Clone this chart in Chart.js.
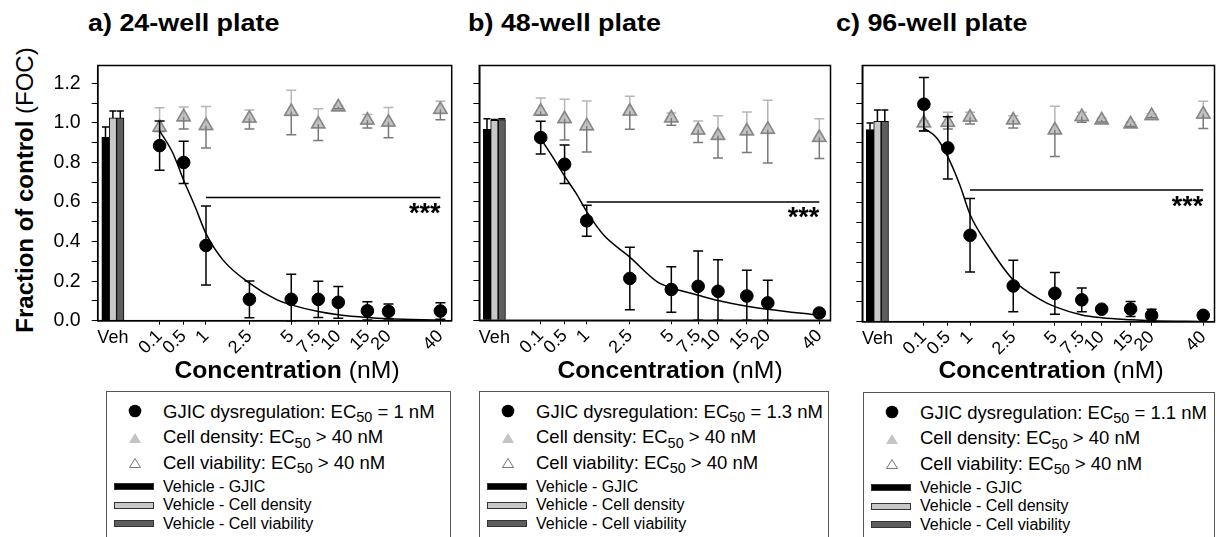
<!DOCTYPE html>
<html>
<head>
<meta charset="utf-8">
<script src="https://cdn.jsdelivr.net/npm/chart.js@4.4.1/dist/chart.umd.min.js"></script>
<style>
  body { margin: 0; background: #fff; width: 1224px; height: 537px; overflow: hidden; position: relative;
         font-family: "Liberation Sans", Arial, sans-serif; color: #000; }
  .ptitle { position: absolute; top: 12px; font-weight: bold; font-size: 23px; line-height: 23px; white-space: nowrap;
            transform: scaleX(1.17); transform-origin: 0 0; }
  .chartbox { position: absolute; top: 40px; height: 330px; }
  .xtitle { position: absolute; top: 358px; font-size: 24px; line-height: 24px; white-space: nowrap; transform: translateX(-50%) scaleX(1.03); }
  .ytitle { position: absolute; left: 25px; top: 190px; font-size: 24px; line-height: 24px; white-space: nowrap;
            transform: translate(-50%, -50%) rotate(-90deg); }
  .legend { position: absolute; height: 160px; border: 1px solid #555; box-sizing: border-box; }
  .row { position: absolute; white-space: nowrap; }
  .big { font-size: 18.5px; line-height: 19px; }
  .small { font-size: 16px; line-height: 16px; }
  .sub { font-size: 0.78em; position: relative; top: 0.32em; }
  .mk { position: absolute; }
</style>
</head>
<body>
<div class="ptitle" style="left:88px">a) 24-well plate</div>
<div class="ptitle" style="left:468px">b) 48-well plate</div>
<div class="ptitle" style="left:836px">c) 96-well plate</div>
<div class="ytitle"><b>Fraction of control</b> (FOC)</div>

<div class="chartbox" style="left:0px;width:470px"><canvas id="chartA" width="470" height="330"></canvas></div>
<div class="chartbox" style="left:460px;width:380px"><canvas id="chartB" width="380" height="330"></canvas></div>
<div class="chartbox" style="left:840px;width:384px"><canvas id="chartC" width="384" height="330"></canvas></div>

<div class="xtitle" style="left:287px"><b>Concentration</b> (nM)</div>
<div class="xtitle" style="left:670px"><b>Concentration</b> (nM)</div>
<div class="xtitle" style="left:1051px"><b>Concentration</b> (nM)</div>

<div id="legendA" class="legend" style="left:106px;top:391px;width:345px"></div>
<div id="legendB" class="legend" style="left:479px;top:391px;width:350px"></div>
<div id="legendC" class="legend" style="left:863px;top:392px;width:352px"></div>

<script>
// concentraties (nM) en labels op de x-as
const conc = [0.1, 0.5, 1, 2.5, 5, 7.5, 10, 15, 20, 40];
const concLabels = ["0.1", "0.5", "1", "2.5", "5", "7.5", "10", "15", "20", "40"];
const vehLabel = "Veh";
const yTicks = [0, 0.1, 0.2, 0.3, 0.4, 0.5, 0.6, 0.7, 0.8, 0.9, 1.0, 1.1, 1.2];
const sigLabel = "***";
const ec50Labels = ["1", "1.3", "1.1"];

// a) 24-well
const vehA = [0.927, 1.025, 1.025];
const vehErrA = [0.052, 0.035, 0.035];
const gjicA = [0.885, 0.80, 0.38, 0.108, 0.108, 0.108, 0.093, 0.05, 0.047, 0.049];
const gjicErrA = [0.125, 0.107, 0.2, 0.093, 0.127, 0.092, 0.08, 0.046, 0.038, 0.042];
const densA = [0.977, 1.03, 0.986, 1.023, 1.057, 0.994, 1.08, 1.013, 1.003, 1.067];
const densErrA = [0.10, 0.05, 0.097, 0.042, 0.108, 0.078, 0.008, 0.029, 0.075, 0.042];
const viabA = [0.977, 1.03, 0.986, 1.023, 1.057, 0.994, 1.08, 1.013, 1.003, 1.067];
const viabErrA = [0.02, 0.061, 0.113, 0.054, 0.117, 0.083, 0.008, 0.039, 0.078, 0.051];
const sigA = 0.623;

// b) 48-well
const vehB = [0.967, 1.013, 1.016];
const vehErrB = [0.054, 0.004, 0.004];
const gjicB = [0.925, 0.79, 0.504, 0.212, 0.156, 0.172, 0.147, 0.123, 0.088, 0.037];
const gjicErrB = [0.083, 0.097, 0.078, 0.158, 0.115, 0.179, 0.16, 0.13, 0.115, 0.012];
const densB = [1.058, 1.02, 0.984, 1.058, 1.024, 0.962, 0.935, 0.958, 0.966, 0.925];
const densErrB = [0.068, 0.099, 0.126, 0.076, 0.026, 0.047, 0.1, 0.097, 0.148, 0.096];
const viabB = [1.058, 1.02, 0.984, 1.058, 1.024, 0.962, 0.935, 0.958, 0.966, 0.925];
const viabErrB = [0.02, 0.107, 0.132, 0.091, 0.037, 0.062, 0.113, 0.109, 0.169, 0.106];
const sigB = 0.599;

// c) 96-well
const vehC = [0.967, 1.009, 1.009];
const vehErrC = [0.033, 0.057, 0.057];
const gjicC = [1.095, 0.875, 0.435, 0.18, 0.143, 0.11, 0.063, 0.064, 0.032, 0.032];
const gjicErrC = [0.135, 0.157, 0.185, 0.13, 0.105, 0.06, 0.01, 0.038, 0.031, 0.008];
const densC = [1.0, 1.003, 1.029, 1.015, 0.965, 1.032, 1.015, 0.995, 1.037, 1.045];
const densErrC = [0.01, 0.051, 0.025, 0.022, 0.12, 0.022, 0.01, 0.01, 0.01, 0.065];
const viabC = [1.0, 1.003, 1.029, 1.015, 0.965, 1.032, 1.015, 0.995, 1.037, 1.045];
const viabErrC = [0.039, 0.033, 0.034, 0.04, 0.133, 0.028, 0.01, 0.012, 0.01, 0.072];
const sigC = 0.663;

// fitcurves
const fitConc = [0.1, 0.3, 0.5, 0.75, 1, 1.5, 2.5, 4, 5, 7.5, 10, 15, 20, 40];
const fitA = [0.96, 0.85, 0.71, 0.57, 0.44, 0.305, 0.19, 0.105, 0.08, 0.046, 0.03, 0.016, 0.01, 0.003];
const fitB = [0.92, 0.82, 0.73, 0.64, 0.55, 0.43, 0.32, 0.195, 0.165, 0.127, 0.1, 0.071, 0.056, 0.025];
const fitC = [0.975, 0.925, 0.83, 0.69, 0.54, 0.39, 0.21, 0.11, 0.076, 0.034, 0.02, 0.01, 0.005, 0.001];

// x-as is log10(c + 1)
const toX = (c) => Math.log10(c + 1);
const X_MIN = -0.305, X_MAX = 1.676, VEH_X = -0.22, Y_MAX = 1.29;
const CANVAS_TOP = 40, CANVAS_H = 330, PLOT_TOP = 65.5;

const pts = (xs, ys) => xs.map((c, i) => ({ x: toX(c), y: ys[i] }));

Chart.defaults.font.family = '"Liberation Sans", Arial, sans-serif';
Chart.defaults.color = "#000";

// foutbalken, kader, Veh-label en sterretjes
const panelDecor = {
  id: "panelDecor",
  afterDatasetDraw(chart, args) {
    const ds = chart.data.datasets[args.index];
    if (!ds.errUp && !ds.errDown) return;
    const { ctx } = chart;
    const y = chart.scales.y;
    const cap = ds.capWidth || 10;
    ctx.save();
    ctx.strokeStyle = ds.errColor;
    ctx.lineWidth = 1.5;
    args.meta.data.forEach((el, i) => {
      const v = ds.data[i].y;
      const x = el.x;
      const y0 = y.getPixelForValue(v);
      const ends = [];
      if (ds.errUp) ends.push(y.getPixelForValue(v + ds.errUp[i]));
      if (ds.errDown) ends.push(y.getPixelForValue(Math.max(0, v - ds.errDown[i])));
      ends.forEach((ye) => {
        ctx.beginPath();
        ctx.moveTo(x, y0);
        ctx.lineTo(x, ye);
        ctx.moveTo(x - cap / 2, ye);
        ctx.lineTo(x + cap / 2, ye);
        ctx.stroke();
      });
    });
    ctx.restore();
  },
  afterDraw(chart, args, opts) {
    const { ctx, chartArea: a } = chart;
    const { x, y } = chart.scales;
    ctx.save();
    ctx.strokeStyle = "#000";
    ctx.lineWidth = 1.5;
    ctx.strokeRect(a.left, a.top, a.right - a.left, a.bottom - a.top);
    ctx.fillStyle = "#000";
    ctx.font = '18px "Liberation Sans", Arial, sans-serif';
    ctx.textAlign = "center";
    ctx.textBaseline = "alphabetic";
    ctx.fillText(vehLabel, x.getPixelForValue(VEH_X), a.bottom + 22.5);
    ctx.font = 'bold 27px "Liberation Sans", Arial, sans-serif';
    ctx.textAlign = "right";
    ctx.fillText(sigLabel, x.getPixelForValue(toX(conc[conc.length - 1])), y.getPixelForValue(opts.sig) + 24.5);
    ctx.restore();
  },
};

function makePanel(canvasId, p) {
  const barDs = (i, color) => ({
    type: "bar",
    data: [{ x: VEH_X, y: p.veh[i] }],
    backgroundColor: color,
    borderColor: "#000",
    borderWidth: 1,
    barThickness: 7.4,
    errUp: [p.vehErr[i]],
    errColor: "#000",
    capWidth: 7,
  });
  new Chart(document.getElementById(canvasId), {
    type: "scatter",
    data: {
      datasets: [
        { type: "line", data: pts(fitConc, p.fit), borderColor: "#000", borderWidth: 1.5,
          pointRadius: 0, cubicInterpolationMode: "monotone", fill: false },
        { type: "line", data: pts([1, 40], [p.sig, p.sig]), borderColor: "#000", borderWidth: 1.5,
          pointRadius: 0, fill: false },
        { label: "GJIC", data: pts(conc, p.gjic), pointStyle: "circle", pointRadius: 6.3,
          backgroundColor: "#000", borderColor: "#000", errUp: p.gjicErr, errDown: p.gjicErr, errColor: "#000" },
        { label: "Viability", data: pts(conc, p.viab), pointStyle: "triangle", pointRadius: 7.5,
          backgroundColor: "rgba(0,0,0,0)", borderColor: "#868686", borderWidth: 1.5,
          errDown: p.viabErr, errColor: "#7a7a7a" },
        { label: "Density", data: pts(conc, p.dens), pointStyle: "triangle", pointRadius: 8.5,
          backgroundColor: "#c4c4c4", borderColor: "#c4c4c4", borderWidth: 1,
          errUp: p.densErr, errColor: "#b6b6b6" },
        barDs(0, "#000"),
        barDs(1, "#c8c8c8"),
        barDs(2, "#5e5e5e"),
      ],
    },
    options: {
      responsive: false,
      animation: false,
      layout: { padding: { top: PLOT_TOP - CANVAS_TOP, right: p.canvasW - p.plotRight, left: 0, bottom: 0 } },
      plugins: { legend: { display: false }, tooltip: { enabled: false }, panelDecor: { sig: p.sig } },
      scales: {
        x: {
          type: "linear", min: X_MIN, max: X_MAX, offset: false,
          afterBuildTicks: (s) => { s.ticks = conc.map((c) => ({ value: toX(c) })); },
          afterFit: (s) => { s.height = CANVAS_H - (p.plotBottom - CANVAS_TOP); },
          ticks: { autoSkip: false, minRotation: 45, maxRotation: 45, padding: 1,
                   font: { size: 18 }, callback: (v, i) => concLabels[i] },
          grid: { offset: false, drawOnChartArea: false, tickLength: 4, color: "#000", lineWidth: 1 },
          border: { color: "#000", width: 1.5 },
        },
        y: {
          min: 0, max: Y_MAX,
          afterBuildTicks: (s) => { s.ticks = yTicks.map((v) => ({ value: v })); },
          afterFit: (s) => { s.width = p.plotLeft; },
          ticks: { autoSkip: false, padding: 11, font: { size: 19.5 },
                   callback: (v) => (p.yLabels && Math.round(v * 10) % 2 === 0 ? v.toFixed(1) : "") },
          grid: { drawOnChartArea: false, tickLength: 6, color: "#000", lineWidth: 1 },
          border: { color: "#000", width: 1.5 },
        },
      },
    },
    plugins: [panelDecor],
  });
}

makePanel("chartA", { veh: vehA, vehErr: vehErrA, gjic: gjicA, gjicErr: gjicErrA, dens: densA, densErr: densErrA,
  viab: viabA, viabErr: viabErrA, fit: fitA, sig: sigA, canvasW: 470, plotLeft: 97.7, plotRight: 451.7, plotBottom: 320.7, yLabels: true });
makePanel("chartB", { veh: vehB, vehErr: vehErrB, gjic: gjicB, gjicErr: gjicErrB, dens: densB, densErr: densErrB,
  viab: viabB, viabErr: viabErrB, fit: fitB, sig: sigB, canvasW: 380, plotLeft: 19.3, plotRight: 372.7, plotBottom: 320.3, yLabels: false });
makePanel("chartC", { veh: vehC, vehErr: vehErrC, gjic: gjicC, gjicErr: gjicErrC, dens: densC, densErr: densErrC,
  viab: viabC, viabErr: viabErrC, fit: fitC, sig: sigC, canvasW: 384, plotLeft: 22.3, plotRight: 376.7, plotBottom: 321.7, yLabels: false });

// legenda's
function buildLegend(id, ec50) {
  const box = document.getElementById(id);
  const big = [
    ['<svg width="14" height="14"><circle cx="7" cy="7" r="6.3" fill="#000"/></svg>', `GJIC dysregulation: EC<span class="sub">50</span> = ${ec50} nM`],
    ['<svg width="14" height="12"><polygon points="7,1 13,11 1,11" fill="#c4c4c4"/></svg>', 'Cell density: EC<span class="sub">50</span> &gt; 40 nM'],
    ['<svg width="14" height="12"><polygon points="7,1.5 12.5,10.5 1.5,10.5" fill="none" stroke="#777" stroke-width="1"/></svg>', 'Cell viability: EC<span class="sub">50</span> &gt; 40 nM'],
  ];
  const small = [
    ["#000", "Vehicle - GJIC"],
    ["#c8c8c8", "Vehicle - Cell density"],
    ["#5e5e5e", "Vehicle - Cell viability"],
  ];
  const bigBase = [25.5, 51, 76.5];
  const smallBase = [100, 118.5, 137];
  big.forEach(([svg, text], i) => {
    const m = document.createElement("div");
    m.className = "mk";
    m.style.left = "21px";
    m.style.top = (bigBase[i] - 6.5 - 7) + "px";
    m.innerHTML = svg;
    box.appendChild(m);
    const r = document.createElement("div");
    r.className = "row big";
    r.style.left = "56px";
    r.style.top = (bigBase[i] - 15.8) + "px";
    r.innerHTML = text;
    box.appendChild(r);
  });
  small.forEach(([col, text], i) => {
    const s = document.createElement("div");
    s.className = "mk";
    s.style.cssText = `left:7px;top:${smallBase[i] - 5.5 - 3.5}px;width:38px;height:5px;background:${col};border:1px solid #333;`;
    box.appendChild(s);
    const r = document.createElement("div");
    r.className = "row small";
    r.style.left = "56px";
    r.style.top = (smallBase[i] - 13.5) + "px";
    r.textContent = text;
    box.appendChild(r);
  });
}
buildLegend("legendA", ec50Labels[0]);
buildLegend("legendB", ec50Labels[1]);
buildLegend("legendC", ec50Labels[2]);
</script>
</body>
</html>
